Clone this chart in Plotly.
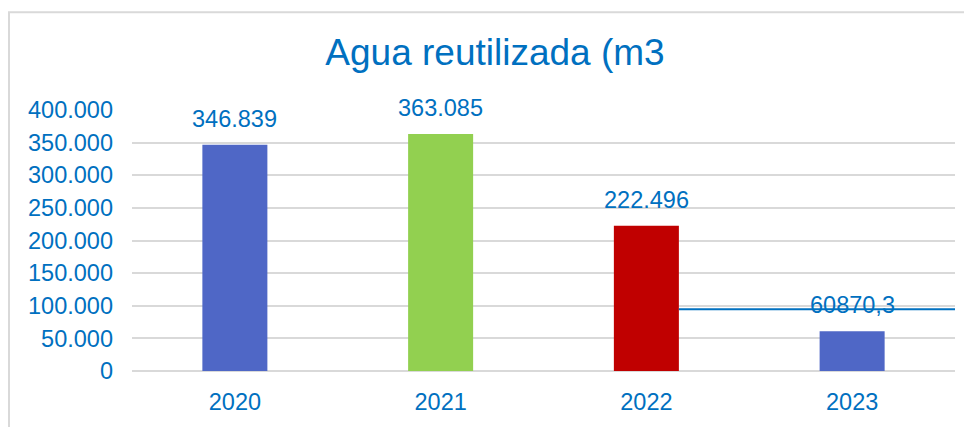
import plotly.graph_objects as go

anios = ["2020", "2021", "2022", "2023"]
agua = [346839, 363085, 222496, 60870.3]
etiquetas = ["346.839", "363.085", "222.496", "60870,3"]
colores = ["#4F67C6", "#92D050", "#C00000", "#4F67C6"]
linea_ref = 94500
y_ticks = [0, 50000, 100000, 150000, 200000, 250000, 300000, 350000, 400000]

AZUL = "#0070C0"
FONT = "Liberation Sans, Arial, sans-serif"

# page has an 8px body margin; figure placed accordingly
W, H = 964, 419
L, R, T, B = 124, 17, 102, 50
PW, PH = W - L - R, H - T - B

fig = go.Figure()
fig.add_trace(go.Bar(
    x=anios, y=agua, marker=dict(color=colores, line=dict(width=0)),
    width=0.316, showlegend=False, hoverinfo="x+y",
))

for i, (v, t) in enumerate(zip(agua, etiquetas)):
    fig.add_annotation(x=i, y=v, text=t, showarrow=False, yanchor="bottom",
                       yshift=11, font=dict(family=FONT, size=23.5, color=AZUL))

# horizontal reference line from right edge of 2022 bar to plot edge
fig.add_shape(type="line", xref="x domain", yref="y", x0=(2 + 0.158 + 0.5) / 4, x1=1.0,
              y0=linea_ref, y1=linea_ref, line=dict(color=AZUL, width=2))

# chart border (cropped outer frame)
fig.add_shape(type="rect", xref="paper", yref="paper", x0=(1 - L) / PW, x1=1.1,
              y0=-0.5, y1=1 + (T - 2) / PH, line=dict(color="#D9D9D9", width=2),
              layer="below")

fig.update_layout(
    width=W, height=H,
    margin=dict(l=L, r=R, t=T, b=B),
    paper_bgcolor="white", plot_bgcolor="white",
    separators=",.",
    title=dict(text="Agua reutilizada (m3", x=487 / W, xanchor="center",
               y=1 - 44 / H, yanchor="middle",
               font=dict(family=FONT, size=37, color=AZUL)),
    font=dict(family=FONT, color=AZUL),
    xaxis=dict(type="category", categoryarray=anios, range=[-0.5, 3.5],
               showgrid=False, zeroline=False, showline=False,
               ticks="", tickfont=dict(size=23.5, color=AZUL), ticklabelstandoff=14,
               fixedrange=True),
    yaxis=dict(range=[0, 400000], tickvals=y_ticks, tickformat=",d",
               showgrid=True, gridcolor="#D9D9D9", gridwidth=1.5,
               zeroline=True, zerolinecolor="#D9D9D9", zerolinewidth=1.5,
               showline=False, ticks="", tickfont=dict(size=23.5, color=AZUL),
               ticklabelstandoff=18, fixedrange=True),
)

fig.write_html("out.html")
